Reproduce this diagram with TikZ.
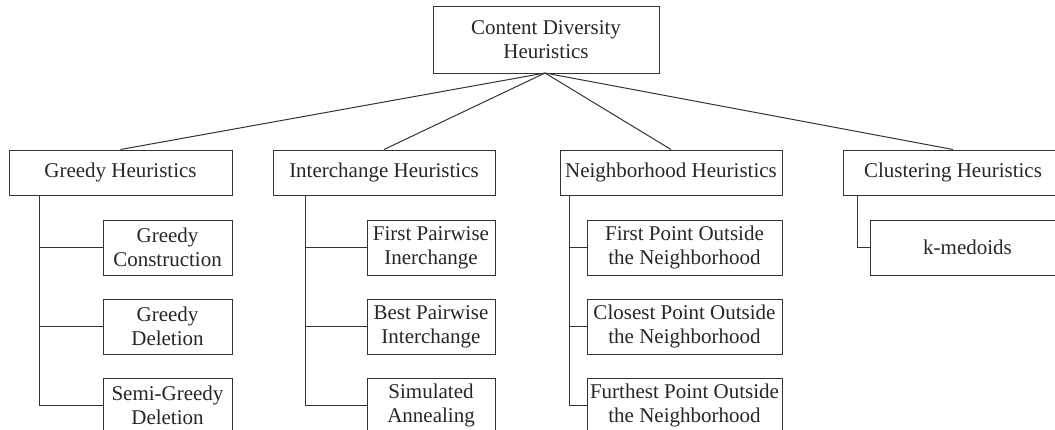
\documentclass[tikz,border=0pt]{standalone}
\usepackage{fontspec}
\setmainfont{Liberation Serif}
\begin{document}
\begin{tikzpicture}[x=1pt,y=-1pt,
  box/.style={draw=black!80, line width=1pt, rectangle, inner sep=0pt, align=center,
    font=\fontsize{21}{24}\selectfont, text=black!85},
  head/.style={box, minimum width=222pt, minimum height=45pt},
  kid/.style={box, minimum height=55pt},
  link/.style={draw=black!80, line width=1pt}]
\useasboundingbox (0,0) rectangle (1055,429);
\clip (0,0) rectangle (1055,429);
% root
\node[box, minimum width=226pt, minimum height=67pt] (root) at (546,39.5) {Content Diversity\\Heuristics};
% heads
\node[head, minimum width=223pt] (gh) at (120.5,172.5) {Greedy Heuristics};
\node[head] (ih) at (384,172.5) {Interchange Heuristics};
\node[head] (nh) at (671,172.5) {Neighborhood Heuristics};
\node[head, minimum width=220pt] (ch) at (953,172.5) {Clustering Heuristics};
% greedy children
\node[kid, minimum width=129pt] (g1) at (167.5,247.5) {Greedy\\Construction};
\node[kid, minimum width=129pt] (g2) at (167.5,326.5) {Greedy\\Deletion};
\node[kid, minimum width=129pt] (g3) at (167.5,405.5) {Semi-Greedy\\Deletion};
% interchange children
\node[kid, minimum width=128pt] (i1) at (431,247.5) {First Pairwise\\Inerchange};
\node[kid, minimum width=128pt] (i2) at (431,326.5) {Best Pairwise\\Interchange};
\node[kid, minimum width=128pt] (i3) at (431,405.5) {Simulated\\Annealing};
% neighborhood children
\node[kid, minimum width=195pt] (n1) at (684.5,247.5) {First Point Outside\\the Neighborhood};
\node[kid, minimum width=195pt] (n2) at (684.5,326.5) {Closest Point Outside\\the Neighborhood};
\node[kid, minimum width=195pt] (n3) at (684.5,405.5) {Furthest Point Outside\\the Neighborhood};
% clustering child
\node[kid, minimum width=195pt] (c1) at (967.5,247.5) {k-medoids};
% root links
\coordinate (rb) at (545,73);
\draw[link] (rb) -- (gh.north);
\draw[link] (rb) -- (ih.north);
\draw[link] (rb) -- (nh.north);
\draw[link] (rb) -- (ch.north);
% spines
\coordinate (gs) at (39,195);
\coordinate (is) at (305,195);
\coordinate (ns) at (569,195);
\coordinate (cs) at (857,195);
\draw[link] (gs) |- (g3.west);
\draw[link] (gs |- g1.west) -- (g1.west);
\draw[link] (gs |- g2.west) -- (g2.west);
\draw[link] (is) |- (i3.west);
\draw[link] (is |- i1.west) -- (i1.west);
\draw[link] (is |- i2.west) -- (i2.west);
\draw[link] (ns) |- (n3.west);
\draw[link] (ns |- n1.west) -- (n1.west);
\draw[link] (ns |- n2.west) -- (n2.west);
\draw[link] (cs) |- (c1.west);
\end{tikzpicture}
\end{document}
